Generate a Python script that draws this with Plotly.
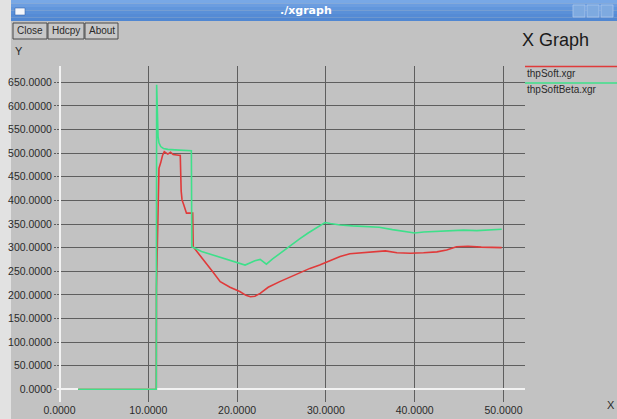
import plotly.graph_objects as go

# ---- data ----
x_ticks = [0, 10, 20, 30, 40, 50]
y_ticks = [0, 50, 100, 150, 200, 250, 300, 350, 400, 450, 500, 550, 600, 650]

soft_x = [2.1, 10.9, 10.92, 11.0, 11.1, 11.2, 11.4, 11.6, 11.8, 12.0, 12.2, 12.5, 12.8, 13.2, 13.6,
          13.7, 13.8, 14.0, 14.3, 15.0, 15.06, 15.8, 16.5, 17.3, 18.1, 19.2, 20.3, 21.0, 21.5, 22.0,
          22.6, 23.5, 24.8, 26.0, 27.1, 28.2, 29.3, 30.5, 31.6, 32.7, 34.0, 35.5, 36.7, 38.0, 39.5,
          41.0, 42.5, 43.6, 44.7, 46.0, 47.5, 49.8]
soft_y = [0, 0, 217, 300, 440, 468, 480, 495, 503, 500, 498, 502, 497, 496, 495,
          420, 401, 390, 373, 373, 302, 284, 268, 248, 228, 216, 207, 199, 196, 197,
          203, 216, 228, 238, 247, 256, 263, 273, 281, 287, 289, 292, 293, 289, 288,
          289, 291, 295, 302, 303, 301, 300]

beta_x = [2.1, 10.9, 10.94, 11.0, 11.05, 11.1, 11.2, 11.4, 11.7, 12.2, 13.0, 14.0, 14.7, 14.85,
          14.9, 15.5, 16.0, 17.0, 18.0, 19.0, 20.0, 20.9, 21.5, 22.0, 22.6, 23.3, 24.0, 25.0,
          26.0, 27.0, 28.0, 29.0, 29.9, 30.5, 31.6, 33.0, 34.5, 36.0, 37.5, 39.0, 40.0, 41.0,
          42.5, 44.0, 45.5, 47.0, 48.5, 49.8]
beta_y = [0, 0, 645, 600, 560, 535, 522, 514, 510, 508, 507, 506, 506, 505,
          302, 296, 292, 286, 280, 274, 268, 263, 268, 272, 275, 265, 276, 290,
          305, 318, 331, 343, 353, 351, 348, 346, 345, 343, 338, 333, 331, 333,
          334, 336, 337, 336, 338, 339]

series_names = ["thpSoft.xgr", "thpSoftBeta.xgr"]
series_colors = ["#e03a3a", "#3ee08a"]
buttons = ["Close", "Hdcpy", "About"]

# ---- layout geometry (pixels) ----
W_PX, H_PX = 617, 419
PL, PR, PT, PB = 57, 525, 66, 402
PW, PH = PR - PL, PB - PT
BG = "#c2c2c2"
TXT = "#2a2a2a"
FONT = "Liberation Sans, Arial, sans-serif"


def fx(p):
    return (p - PL) / PW


def fy(p):
    return (PB - p) / PH


fig = go.Figure()
fig.add_trace(go.Scatter(x=soft_x, y=soft_y, mode="lines", name=series_names[0],
                         line=dict(color=series_colors[0], width=1.6), showlegend=False))
fig.add_trace(go.Scatter(x=beta_x, y=beta_y, mode="lines", name=series_names[1],
                         line=dict(color=series_colors[1], width=1.6), showlegend=False))

shapes = []
annotations = []

# left strip outside the window
shapes.append(dict(type="rect", xref="paper", yref="paper", x0=fx(0), x1=fx(11), y0=fy(419), y1=fy(0),
                   fillcolor="#e2e2e2", line=dict(width=0), layer="below"))
# title bar with gradient bands
bands = ["#78a8e6", "#6b9de0", "#6196dc", "#5a90d8", "#558bd5", "#5087d2"]
bh = 21 / len(bands)
for i, c in enumerate(bands):
    shapes.append(dict(type="rect", xref="paper", yref="paper", x0=fx(11), x1=fx(617),
                       y0=fy(bh * (i + 1)), y1=fy(bh * i), fillcolor=c, line=dict(width=0)))
# window icon
shapes.append(dict(type="rect", xref="paper", yref="paper", x0=fx(15), x1=fx(25), y0=fy(15), y1=fy(8),
                   fillcolor="#f4f6fa", line=dict(color="#3a6ab0", width=0.6)))
# window buttons right
for x0 in [573, 587, 601]:
    shapes.append(dict(type="rect", xref="paper", yref="paper", x0=fx(x0), x1=fx(x0 + 12),
                       y0=fy(17), y1=fy(5), fillcolor="#7eaae0", line=dict(color="#a9c6ee", width=0.8)))
annotations.append(dict(text="<b>./xgraph</b>", x=fx(306), y=fy(11), xref="paper", yref="paper",
                        showarrow=False, font=dict(family="DejaVu Sans, sans-serif", size=11, color="white"),
                        xanchor="center", yanchor="middle"))

# buttons
bx = [(13, 47), (48, 84), (85, 118)]
for (x0, x1), label in zip(bx, buttons):
    shapes.append(dict(type="rect", xref="paper", yref="paper", x0=fx(x0), x1=fx(x1),
                       y0=fy(39), y1=fy(23), fillcolor="#c8c8c8", line=dict(color="#4a4a4a", width=1)))
    annotations.append(dict(text=label, x=fx((x0 + x1) / 2), y=fy(31), xref="paper", yref="paper",
                            showarrow=False, font=dict(family=FONT, size=10, color=TXT),
                            xanchor="center", yanchor="middle"))

# axis labels and title
annotations.append(dict(text="Y", x=fx(13), y=fy(51), xref="paper", yref="paper", showarrow=False,
                        font=dict(family=FONT, size=11, color=TXT), xanchor="left", yanchor="middle"))
annotations.append(dict(text="X", x=fx(611), y=fy(405), xref="paper", yref="paper", showarrow=False,
                        font=dict(family=FONT, size=11, color=TXT), xanchor="center", yanchor="middle"))
annotations.append(dict(text="X Graph", x=fx(555), y=fy(40), xref="paper", yref="paper", showarrow=False,
                        font=dict(family=FONT, size=18, color="#1a1a1a"), xanchor="center", yanchor="middle"))

# legend
for i, (nm, col) in enumerate(zip(series_names, series_colors)):
    ly = 66.5 + 16.5 * i
    shapes.append(dict(type="line", xref="paper", yref="paper", x0=fx(525), x1=fx(617), y0=fy(ly), y1=fy(ly),
                       line=dict(color=col, width=1.6)))
    annotations.append(dict(text=nm, x=fx(525), y=fy(ly + 7), xref="paper", yref="paper", showarrow=False,
                            font=dict(family=FONT, size=10, color=TXT), xanchor="left", yanchor="middle"))

x_rng = [(PL - 59.5) / 8.88, (PR - 59.5) / 8.88]
y_rng = [(389.3 - PB) / 0.4723, (389.3 - PT) / 0.4723]

fig.update_layout(
    width=W_PX, height=H_PX,
    margin=dict(l=PL, r=W_PX - PR, t=PT, b=H_PX - PB, pad=0),
    paper_bgcolor=BG, plot_bgcolor=BG,
    shapes=shapes, annotations=annotations,
    showlegend=False,
    font=dict(family=FONT, size=10, color=TXT),
    xaxis=dict(range=x_rng, tickvals=x_ticks, ticktext=["%.4f" % v for v in x_ticks],
               showgrid=True, gridcolor="#5e5e5e", gridwidth=1, automargin=False,
               zeroline=True, zerolinecolor="#f2f2f2", zerolinewidth=1.5,
               showline=False, ticks="", tickfont=dict(size=10.5, color=TXT)),
    yaxis=dict(range=y_rng, tickvals=y_ticks, ticktext=["%.4f" % v for v in y_ticks],
               showgrid=True, gridcolor="#5e5e5e", gridwidth=1, automargin=False,
               zeroline=True, zerolinecolor="#f2f2f2", zerolinewidth=1.5,
               showline=False, ticks="outside", ticklen=2, tickcolor="#5e5e5e",
               tickfont=dict(size=10.5, color=TXT)),
)

fig.write_html("out.html", config={"displayModeBar": False},
               post_script="document.body.style.margin='0';document.body.style.overflow='hidden';")
